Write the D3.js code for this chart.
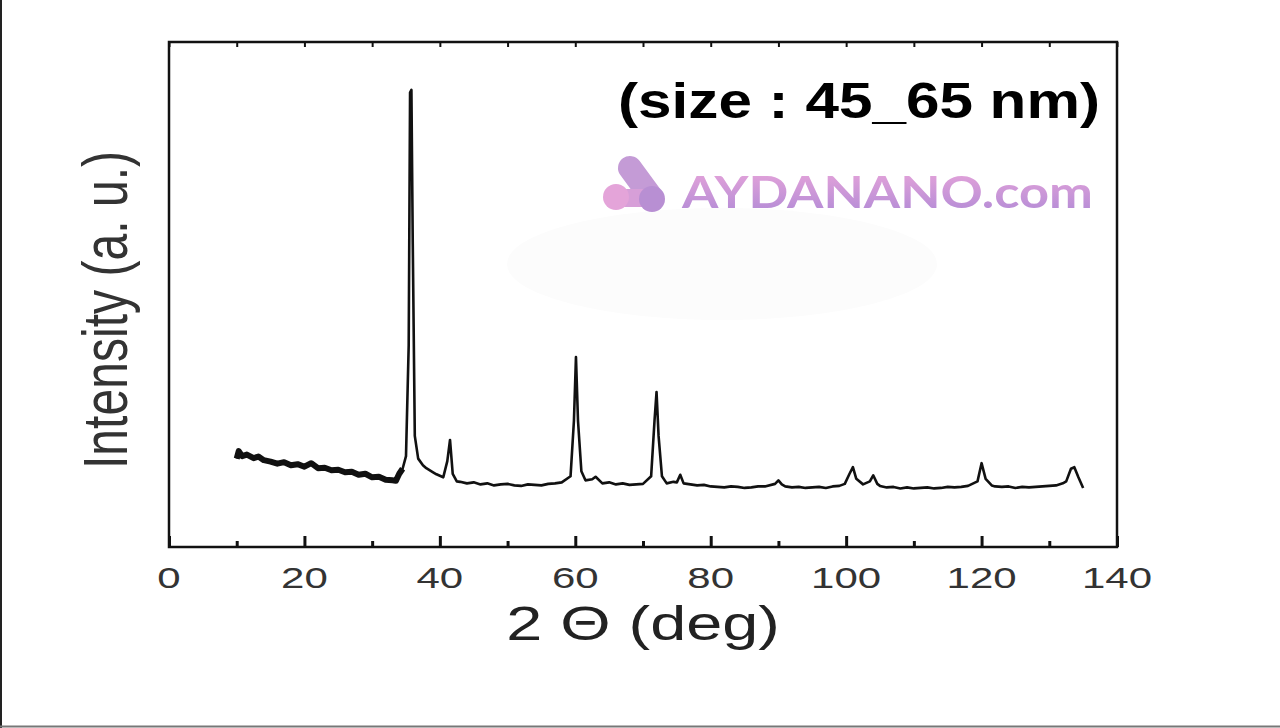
<!DOCTYPE html>
<html>
<head>
<meta charset="utf-8">
<script src="https://cdn.jsdelivr.net/npm/d3@7"></script>
<style>
  body { margin: 0; background: #fff; }
  svg { display: block; }
</style>
</head>
<body>
<svg id="chart" width="1280" height="728"></svg>
<script>
// XRD pattern (2-theta in deg, intensity in a.u.)
var twoTheta = [10,10.3,10.8,11.5,12.5,13.2,14,15,16,17,18,19,20,21,22,23,24,25,26,27,28,29,30,31,32,33,33.5,34,34.5,35,35.4,35.6,35.8,36,36.3,36.8,37.5,38,39,39.5,40.5,41.1,41.5,41.9,42.5,43,44,45,46,47,48,49,50,51,52,53,54,55,56,57,58,59.3,59.8,60.1,60.4,60.9,61.5,62.5,63,64,65,66,67,68,69,70,71.2,71.7,72,72.3,72.8,73.5,74.5,75,75.5,76,77,78,79,80,81,82,83,84,85,86,87,88,89.5,90,90.5,91,92,93,94,95,96,97,98,99,99.8,100.5,101,101.5,102.5,103.5,104,104.6,105,106,107,108,109,110,111,112,113,114,115,116,117,118,119.4,120,120.6,121.5,122,123,124,125,126,127,128,129,130,131,132,132.5,133.2,133.7,134.3,135];
var intensity = [17.5,19,18,18.3,17.6,17.9,17.2,16.9,16.5,16.8,16.2,16.4,15.9,16.6,15.6,15.7,15.2,15.3,14.8,14.9,14.3,14.5,13.8,13.9,13.3,13.2,13.1,14.5,15.5,18,40,90,90.5,60,22,17.5,16.2,15.6,14.8,14.4,13.8,17,21.2,14.5,13,12.9,12.6,12.8,12.4,12.6,12.2,12.4,12.5,12.2,12.1,12.4,12.3,12.2,12.5,12.6,12.8,14,25,37.6,25,15,13.2,13.4,13.9,12.6,12.8,12.4,12.6,12.3,12.4,12.5,14,25,30.7,22,14,12.6,12.9,12.8,14.3,12.6,12.4,12.2,12.3,12,11.9,11.8,12,11.9,11.7,11.8,12,12,12.5,13.2,12.4,12,11.8,11.9,11.7,11.8,11.9,11.7,12,12.1,12.5,14.5,15.8,13.5,12.4,13,14.2,12.5,12.1,11.8,11.9,11.6,11.8,11.6,11.7,11.8,11.6,11.7,11.9,11.8,11.9,12.1,13,16.6,13.5,12.2,12,11.9,12,11.7,11.9,11.8,11.9,12,12.1,12.2,12.6,13,15.5,15.8,13.8,11.7];
var xTicks = [0, 20, 40, 60, 80, 100, 120, 140];
var minorTicks = [10, 30, 50, 70, 90, 110, 130];

var svg = d3.select("#chart");
var pLeft = 169, pRight = 1117, pTop = 42, pBottom = 547;
var FONT = "Liberation Sans, Arial, sans-serif";

var x = d3.scaleLinear().domain([0, 140]).range([pLeft, pRight]);
var y = d3.scaleLinear().domain([0, 100]).range([pBottom, pTop]);

// outer frame of the picture
svg.append("line").attr("x1", 1).attr("x2", 1).attr("y1", 0).attr("y2", 728)
  .attr("stroke", "#222").attr("stroke-width", 2);
svg.append("line").attr("x1", 0).attr("x2", 1280).attr("y1", 726.5).attr("y2", 726.5)
  .attr("stroke", "#777").attr("stroke-width", 2);

// faint smudge behind the plot
svg.append("ellipse").attr("cx", 722).attr("cy", 264).attr("rx", 215).attr("ry", 56)
  .attr("fill", "#fcfcfc");

// axes (ticks point inward)
function noDomain(g){ g.select(".domain").remove(); }
svg.append("g").attr("transform", "translate(0," + pBottom + ")")
  .call(d3.axisBottom(x).tickValues(xTicks).tickSize(-11).tickFormat(""))
  .call(noDomain)
  .selectAll("line").attr("stroke", "#111").attr("stroke-width", 3);
svg.append("g").attr("transform", "translate(0," + pBottom + ")")
  .call(d3.axisBottom(x).tickValues(minorTicks).tickSize(-6).tickFormat(""))
  .call(noDomain)
  .selectAll("line").attr("stroke", "#111").attr("stroke-width", 3);
svg.append("g").attr("transform", "translate(0," + pTop + ")")
  .call(d3.axisTop(x).tickValues(xTicks.concat(minorTicks)).tickSize(-5).tickFormat(""))
  .call(noDomain)
  .selectAll("line").attr("stroke", "#111").attr("stroke-width", 2);

svg.append("rect").attr("x", pLeft).attr("y", pTop)
  .attr("width", pRight - pLeft).attr("height", pBottom - pTop)
  .attr("fill", "none").attr("stroke", "#111").attr("stroke-width", 2.5);

svg.append("g").selectAll("text").data(xTicks).join("text")
  .attr("transform", function(d){ return "translate(" + x(d) + ",588) scale(1.4,1)"; })
  .attr("text-anchor", "middle")
  .attr("font-family", FONT)
  .attr("font-size", 30).attr("fill", "#333")
  .text(function(d){ return d; });

// the pattern (noisy low-angle part drawn heavier)
var line = d3.line().x(function(d){ return x(d[0]); }).y(function(d){ return y(d[1]); });
var pts = d3.zip(twoTheta, intensity);
svg.append("path").datum(pts.filter(function(d){ return d[0] <= 34.5; }))
  .attr("d", line).attr("fill", "none").attr("stroke", "#111")
  .attr("stroke-width", 6).attr("stroke-linejoin", "round");
svg.append("path").datum(pts)
  .attr("d", line).attr("fill", "none").attr("stroke", "#111")
  .attr("stroke-width", 2.6).attr("stroke-linejoin", "round");

// axis titles
svg.append("text").attr("transform", "translate(127,310) rotate(-90) scale(1,1.35)")
  .attr("text-anchor", "middle")
  .attr("font-family", FONT)
  .attr("font-size", 46).attr("fill", "#333")
  .attr("textLength", 318).attr("lengthAdjust", "spacingAndGlyphs")
  .text("Intensity (a. u.)");
svg.append("text").attr("transform", "translate(643,640) scale(1.35,1)")
  .attr("text-anchor", "middle")
  .attr("font-family", FONT)
  .attr("font-size", 48).attr("fill", "#222")
  .text("2 \u0398 (deg)");

// annotation
svg.append("text").attr("x", 618).attr("y", 118)
  .attr("font-family", FONT)
  .attr("font-weight", "bold").attr("font-size", 50).attr("fill", "#000")
  .attr("textLength", 482).attr("lengthAdjust", "spacingAndGlyphs")
  .text("(size : 45_65 nm)");

// watermark logo
var defs = svg.append("defs");
var grad = defs.append("linearGradient").attr("id", "wm").attr("x1", 0).attr("y1", 0).attr("x2", 0).attr("y2", 1);
grad.append("stop").attr("offset", "0%").attr("stop-color", "#eaa6da");
grad.append("stop").attr("offset", "100%").attr("stop-color", "#b08ad6");
var lg = svg.append("g");
lg.append("path").attr("d", "M630,168 L652,198").attr("stroke", "#c49bd6")
  .attr("stroke-width", 24).attr("stroke-linecap", "round");
lg.append("path").attr("d", "M616,198 L652,198").attr("stroke", "#d79fd8")
  .attr("stroke-width", 18).attr("stroke-linecap", "round");
lg.append("circle").attr("cx", 616).attr("cy", 197).attr("r", 13).attr("fill", "#e4a4d9");
lg.append("circle").attr("cx", 652).attr("cy", 199).attr("r", 13).attr("fill", "#b88fd3");
svg.append("text").attr("x", 682).attr("y", 208)
  .attr("font-family", "Lato, Arial, sans-serif")
  .attr("font-weight", "bold").attr("font-size", 44).attr("fill", "url(#wm)")
  .attr("textLength", 411).attr("lengthAdjust", "spacingAndGlyphs")
  .text("AYDANANO.com");
</script>
</body>
</html>
